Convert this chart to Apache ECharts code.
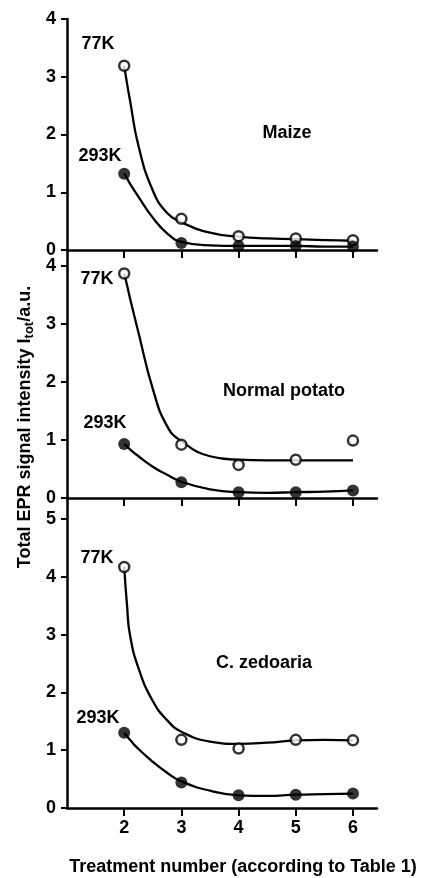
<!DOCTYPE html>
<html>
<head>
<meta charset="utf-8">
<script src="https://cdn.jsdelivr.net/npm/echarts@6/dist/echarts.min.js"></script>
<style>
html,body{margin:0;padding:0;background:#fff;}
#chart{width:425px;height:878px;}
</style>
</head>
<body>
<div id="chart"></div>
<script>
// ---- Data ----
var treatments = [2, 3, 4, 5, 6];
var xTickValues = [2, 3, 4, 5, 6];

// Measured points
var maize77 = [3.19, 0.54, 0.24, 0.20, 0.17];
var maize293 = [1.32, 0.12, 0.07, 0.07, 0.06];
var potato77 = [3.87, 0.92, 0.57, 0.66, 0.99];
var potato293 = [0.93, 0.27, 0.10, 0.10, 0.13];
var zedo77 = [4.17, 1.18, 1.03, 1.18, 1.17];
var zedo293 = [1.30, 0.44, 0.22, 0.23, 0.25];

// Fitted curves
var fitX = [2, 2.05, 2.1, 2.25, 2.5, 2.75, 3, 3.5, 4, 4.5, 5, 5.5, 6];
var maize77Fit = [3.19, 2.88, 2.60, 1.80, 1.03, 0.64, 0.48, 0.30, 0.23, 0.20, 0.19, 0.17, 0.16];
var maize293Fit = [1.32, 1.24, 1.15, 0.92, 0.56, 0.29, 0.14, 0.08, 0.07, 0.07, 0.07, 0.06, 0.06];
var potato77Fit = [3.87, 3.67, 3.45, 2.85, 1.88, 1.24, 0.98, 0.72, 0.66, 0.65, 0.65, 0.65, 0.65];
var potato293Fit = [0.93, 0.89, 0.84, 0.72, 0.54, 0.40, 0.28, 0.15, 0.10, 0.09, 0.10, 0.11, 0.13];
var zedo77Fit = [4.17, 3.50, 3.00, 2.42, 1.85, 1.52, 1.32, 1.15, 1.11, 1.13, 1.17, 1.18, 1.17];
var zedo293Fit = [1.30, 1.24, 1.18, 1.02, 0.80, 0.61, 0.46, 0.30, 0.22, 0.21, 0.23, 0.24, 0.25];

var yTicks1 = [0, 1, 2, 3, 4];
var yTicks2 = [0, 1, 2, 3, 4];
var yTicks3 = [0, 1, 2, 3, 4, 5];

var panelNames = ['Maize', 'Normal potato', 'C. zedoaria'];
var tempNames = ['77K', '293K'];
var yTitleMain = 'Total EPR signal intensity I';
var yTitleSub = 'tot';
var yTitleTail = '/a.u.';
var xTitle = 'Treatment number (according to Table 1)';

// ---- Chart ----
var FONT = '"Liberation Sans", Arial, Helvetica, sans-serif';
var FS = 18;
var chart = echarts.init(document.getElementById('chart'), null, {renderer: 'canvas'});

function pairs(xs, ys) { return xs.map(function (x, i) { return [x, ys[i]]; }); }

var grids = [
  {left: 67, top: 19, width: 310, height: 231},
  {left: 67, top: 250, width: 310, height: 248},
  {left: 67, top: 498, width: 310, height: 310}
];
var yMax = [4, 248 / 58, 310 / 57.8];
var yTickSets = [yTicks1, yTicks2, yTicks3];

var xAxes = grids.map(function (g, i) {
  return {
    type: 'value', gridIndex: i, min: 1, max: 6.42,
    axisLine: {show: true, onZero: false, lineStyle: {color: '#000', width: 2.5}},
    axisTick: {show: true, length: 8, inside: false, lineStyle: {color: '#000', width: 2}, customValues: xTickValues},
    axisLabel: {show: i === 2, color: '#000', fontSize: FS, fontWeight: 'bold', fontFamily: FONT, margin: 11, customValues: xTickValues},
    splitLine: {show: false}
  };
});
var yAxes = grids.map(function (g, i) {
  return {
    type: 'value', gridIndex: i, min: 0, max: yMax[i], interval: 1,
    axisLine: {show: true, lineStyle: {color: '#000', width: 2.5}},
    axisTick: {show: true, length: 6, lineStyle: {color: '#000', width: 2}, customValues: yTickSets[i]},
    axisLabel: {color: '#000', fontSize: FS, fontWeight: 'bold', fontFamily: FONT, margin: 11,
      customValues: yTickSets[i],
      formatter: function (v) { return Math.abs(v - Math.round(v)) < 1e-6 ? String(Math.round(v)) : ''; }},
    splitLine: {show: false}
  };
});

var panels = [
  [maize77, maize293, maize77Fit, maize293Fit],
  [potato77, potato293, potato77Fit, potato293Fit],
  [zedo77, zedo293, zedo77Fit, zedo293Fit]
];
var series = [];
panels.forEach(function (p, i) {
  [p[2], p[3]].forEach(function (fit) {
    series.push({
      type: 'line', xAxisIndex: i, yAxisIndex: i, data: pairs(fitX, fit),
      smooth: 0.5, showSymbol: false, silent: true, z: 2,
      lineStyle: {color: '#000', width: 2.3}
    });
  });
  series.push({
    type: 'scatter', xAxisIndex: i, yAxisIndex: i, data: pairs(treatments, p[0]),
    symbol: 'circle', symbolSize: 10, silent: true, z: 5,
    itemStyle: {color: '#fff', borderColor: '#000', borderWidth: 2.5}
  });
  series.push({
    type: 'scatter', xAxisIndex: i, yAxisIndex: i, data: pairs(treatments, p[1]),
    symbol: 'circle', symbolSize: 12, silent: true, z: 5,
    itemStyle: {color: '#000'}
  });
});

function label(text, x, y) {
  return {
    type: 'text', x: x, y: y, silent: true,
    style: {text: text, fill: '#000', fontSize: FS, fontWeight: 'bold', fontFamily: FONT,
      textAlign: 'center', textVerticalAlign: 'middle', align: 'center', verticalAlign: 'middle'}
  };
}

var graphics = [
  label(tempNames[0], 98, 44), label(tempNames[1], 100, 156), label(panelNames[0], 287, 133),
  label(tempNames[0], 97, 279), label(tempNames[1], 105, 423), label(panelNames[1], 284, 391),
  label(tempNames[0], 97, 558), label(tempNames[1], 98, 718), label(panelNames[2], 264, 663),
  label(xTitle, 243, 867),
  {
    type: 'text', x: 25, y: 427, rotation: Math.PI / 2, silent: true,
    style: {
      text: yTitleMain + '{s|' + yTitleSub + '}' + yTitleTail,
      fill: '#000', fontSize: FS, fontWeight: 'bold', fontFamily: FONT,
      textAlign: 'center', textVerticalAlign: 'middle', align: 'center', verticalAlign: 'middle',
      rich: {s: {fontSize: 13, fontWeight: 'bold', fontFamily: FONT, fill: '#000', padding: [9, 0, 0, 0]}}
    }
  }
];

chart.setOption({
  backgroundColor: '#fff',
  animation: false,
  grid: grids,
  xAxis: xAxes,
  yAxis: yAxes,
  series: series,
  graphic: graphics
});
</script>
</body>
</html>
